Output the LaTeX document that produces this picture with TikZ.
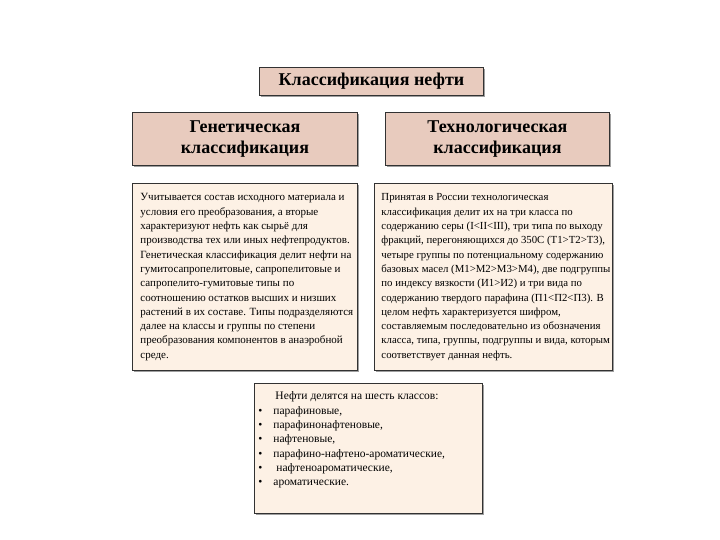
\documentclass[tikz,border=0pt]{standalone}
\usepackage{fontspec}
\setmainfont{Liberation Serif}
\usetikzlibrary{shadows}
\definecolor{headfill}{RGB}{232,203,190}
\definecolor{bodyfill}{RGB}{253,241,229}
\definecolor{edge}{RGB}{50,50,50}
% #1 width, #2 height, #3 top gap, #4 font size, #5 lines
\newcommand{\bodybox}[5]{\parbox[c][#2][t]{#1}{\fontsize{#4}{14.3}\selectfont\vspace*{#3}%
\renewcommand{\arraystretch}{1}\begin{tabular}[t]{@{}l@{}}#5\end{tabular}}}
\begin{document}
\begin{tikzpicture}[x=1pt,y=-1pt,
  shd/.style={general shadow={fill=gray!75, shadow xshift=2pt, shadow yshift=-2pt}},
  headbox/.style={shd, draw=edge, line width=0.9pt, fill=headfill, anchor=north west, inner sep=0pt, align=center, font=\bfseries\fontsize{18}{20.5}\selectfont},
  textbox/.style={shd, draw=edge, line width=0.9pt, fill=bodyfill, anchor=north west, inner sep=0pt}]
\useasboundingbox (0,0) rectangle (720,540);
\fill[white] (0,0) rectangle (720,540);
% title
\node[headbox, minimum width=224pt, minimum height=28pt] (title) at (259,67) {Классификация нефти};
% headers
\node[headbox, minimum width=225pt, minimum height=53pt] (gen) at (132,112) {Генетическая\\классификация};
\node[headbox, minimum width=224pt, minimum height=53pt] (tech) at (385,112) {Технологическая\\классификация};
% body boxes
\node[textbox] (gentext) at (132,183) {\hspace{8pt}\bodybox{217pt}{187pt}{7.5pt}{11}{%
Учитывается состав исходного материала и\\
условия его преобразования, а вторые\\
характеризуют нефть как сырьё для\\
производства тех или иных нефтепродуктов.\\
Генетическая классификация делит нефти на\\
гумитосапропелитовые, сапропелитовые и\\
сапропелито-гумитовые типы по\\
соотношению остатков высших и низших\\
растений в их составе. Типы подразделяются\\
далее на классы и группы по степени\\
преобразования компонентов в анаэробной\\
среде.}};
\node[textbox] (techtext) at (374,183) {\hspace{7pt}\bodybox{231pt}{187pt}{7.5pt}{10.8}{%
Принятая в России технологическая\\
классификация делит их на три класса по\\
содержанию серы (I<II<III), три типа по выходу\\
фракций, перегоняющихся до 350С (Т1>Т2>Т3),\\
четыре группы по потенциальному содержанию\\
базовых масел (М1>М2>М3>М4), две подгруппы\\
по индексу вязкости (И1>И2) и три вида по\\
содержанию твердого парафина (П1<П2<П3). В\\
целом нефть характеризуется шифром,\\
составляемым последовательно из обозначения\\
класса, типа, группы, подгруппы и вида, которым\\
соответствует данная нефть.}};
% bottom box
\node[textbox] (classes) at (254,383) {\hspace{4pt}\bodybox{224pt}{130pt}{6.5pt}{11.5}{%
\hspace*{17pt}Нефти делятся на шесть классов:\\
\textbullet\hspace{11pt}парафиновые,\\
\textbullet\hspace{11pt}парафинонафтеновые,\\
\textbullet\hspace{11pt}нафтеновые,\\
\textbullet\hspace{11pt}парафино-нафтено-ароматические,\\
\textbullet\hspace{14pt}нафтеноароматические,\\
\textbullet\hspace{11pt}ароматические.}};
\end{tikzpicture}
\end{document}
